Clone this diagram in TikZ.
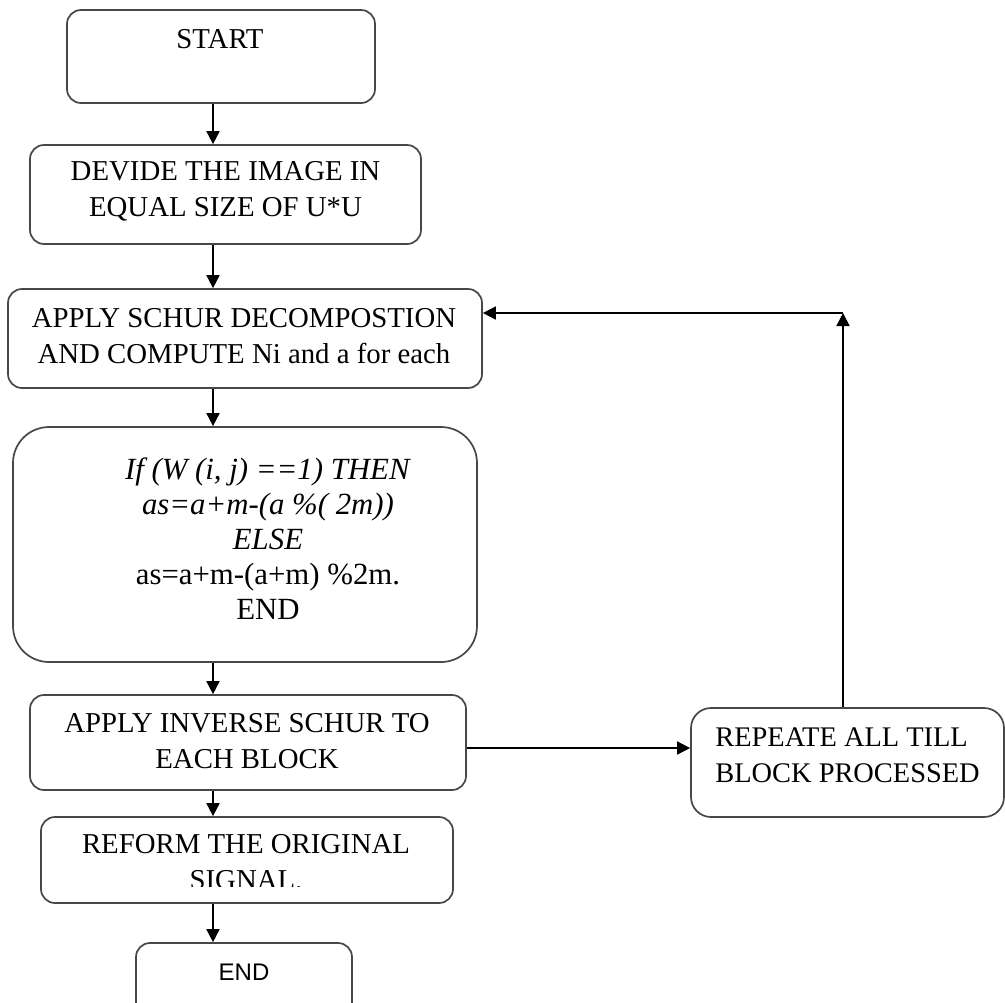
\documentclass[tikz,border=0pt]{standalone}
\usepackage{fontspec}
\setmainfont{Liberation Serif}
\newfontfamily\arialf{Liberation Sans}
\usetikzlibrary{arrows.meta}
\begin{document}
\begin{tikzpicture}[x=0.5pt,y=-0.5pt,
  box/.style={draw=black!72, line width=0.85pt, rounded corners=7pt, inner sep=0pt},
  txt/.style={font=\fontsize{14.4}{18}\selectfont, align=center, inner sep=0pt},
  arr/.style={-{Triangle[length=6.5pt,width=6.5pt]}, line width=0.85pt, draw=black}]
\useasboundingbox (0,0) rectangle (1005,1002);
\clip (0,0) rectangle (1005,1002);
\fill[white] (0,0) rectangle (1005,1002);

% boxes
\node[box, minimum width=154pt, minimum height=46.5pt] (start) at (221,56.5) {};
\node[box, minimum width=195.5pt, minimum height=49.5pt] (devide) at (225.5,194.5) {};
\node[box, minimum width=237pt, minimum height=49.5pt] (schur) at (245,338.5) {};
\node[box, minimum width=232pt, minimum height=117.5pt, rounded corners=18pt] (cond) at (245,544.5) {};
\node[box, minimum width=218pt, minimum height=47.5pt] (inv) at (248,742.5) {};
\node[box, minimum width=206pt, minimum height=43pt] (reform) at (247,860) {};
\node[box, minimum width=108pt, minimum height=48.5pt] (endb) at (244,991.5) {};
\node[box, minimum width=156.5pt, minimum height=54.5pt, rounded corners=10pt] (rep) at (847.5,762.5) {};

% texts
\node[txt] (tstart) at (220,39) {START};
\node[txt] (tdevide) at (225.5,191) {DEVIDE THE IMAGE IN\\EQUAL SIZE OF U*U};
\node[txt] (tschur) at (244,336.5) {APPLY SCHUR DECOMPOSTION\\AND COMPUTE Ni and a for each};
\node[txt, font=\fontsize{15.4}{17.5}\selectfont] (tcond) at (268,539) {\textit{If (W (i, j) ==1) THEN}\\\textit{as=a+m-(a \%( 2m))}\\\textit{ELSE}\\as=a+m-(a+m) \%2m.\\END};
\node[txt] (tinv) at (247,741) {APPLY INVERSE SCHUR TO\\EACH BLOCK};
\begin{scope}
  \clip (0,0) rectangle (1005,886);
  \node[txt] (treform) at (246,862.5) {REFORM THE ORIGINAL\\SIGNAL.};
\end{scope}
\node[txt, font=\arialf\fontsize{12}{14}\selectfont] (tend) at (244,972) {END};
\node[txt, font=\fontsize{14.2}{18}\selectfont, align=left, anchor=west] (trep) at (715,755) {REPEATE ALL TILL\\BLOCK PROCESSED};

% connectors
\coordinate (col) at (213,0);
\coordinate (hy) at (0,748);
\coordinate (corner) at (843,313);
\draw[arr] (start.south -| col) -- (devide.north -| col);
\draw[arr] (devide.south -| col) -- (schur.north -| col);
\draw[arr] (schur.south -| col) -- (cond.north -| col);
\draw[arr] (cond.south -| col) -- (inv.north -| col);
\draw[arr] (inv.south -| col) -- (reform.north -| col);
\draw[arr] (reform.south -| col) -- (endb.north -| col);
\draw[arr] (inv.east |- hy) -- (rep.west |- hy);
\draw[arr] (rep.north -| corner) -- (corner);
\draw[arr] (corner) -- (schur.east |- corner);
\end{tikzpicture}
\end{document}
